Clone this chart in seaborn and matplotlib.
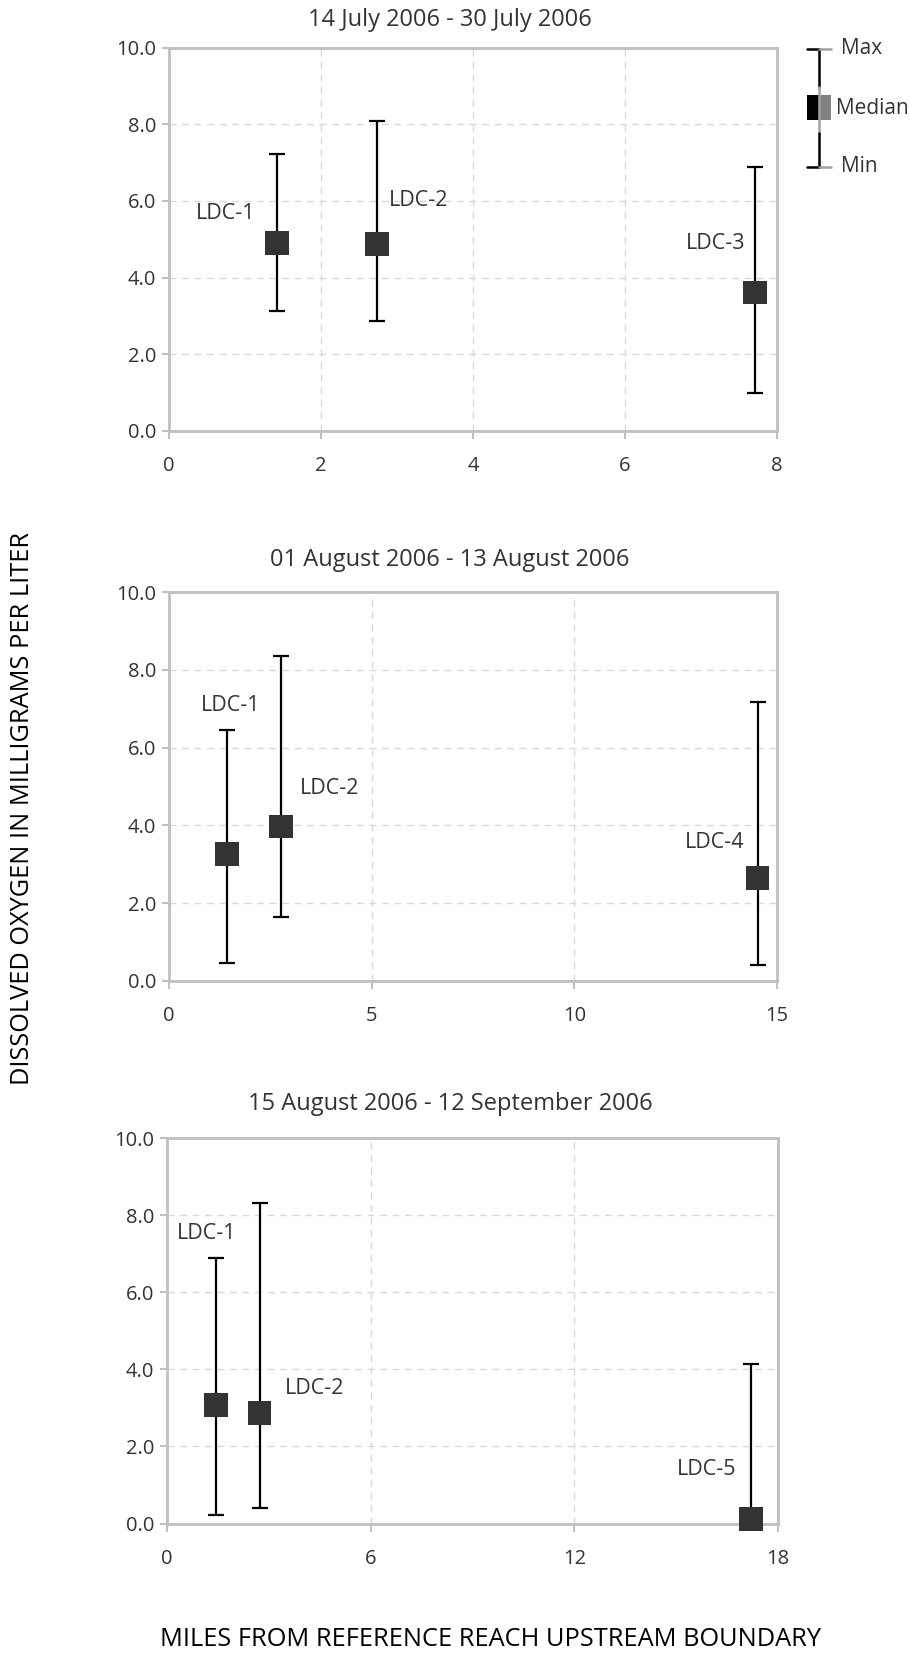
import matplotlib
matplotlib.use("Agg")
import matplotlib.pyplot as plt
import seaborn as sns
import pandas as pd

# ---- data: river mile, min / median / max dissolved oxygen (mg/L) ----
p1_title = "14 July 2006 - 30 July 2006"
p1_sites = ["LDC-1", "LDC-2", "LDC-3"]
p1_miles = [1.42, 2.74, 7.71]
p1_min = [3.12, 2.86, 0.98]
p1_med = [4.90, 4.87, 3.61]
p1_max = [7.23, 8.08, 6.88]
p1_xticks = [0, 2, 4, 6, 8]

p2_title = "01 August 2006 - 13 August 2006"
p2_sites = ["LDC-1", "LDC-2", "LDC-4"]
p2_miles = [1.43, 2.76, 14.52]
p2_min = [0.46, 1.65, 0.41]
p2_med = [3.26, 3.97, 2.65]
p2_max = [6.45, 8.36, 7.17]
p2_xticks = [0, 5, 10, 15]

p3_title = "15 August 2006 - 12 September 2006"
p3_sites = ["LDC-1", "LDC-2", "LDC-5"]
p3_miles = [1.45, 2.73, 17.21]
p3_min = [0.21, 0.41, 0.05]
p3_med = [3.08, 2.87, 0.12]
p3_max = [6.90, 8.31, 4.14]
p3_xticks = [0, 6, 12, 18]

y_ticks = [0.0, 2.0, 4.0, 6.0, 8.0, 10.0]

# ---- layout ----
W, H = 910, 1655
sns.set_theme(style="white")
plt.rcParams["font.family"] = ["Open Sans", "DejaVu Sans"]
TXT = "#333333"
SPINE = "#c0c0c0"
GRID = "#d9d9d9"
MARK = "#333333"

fig = plt.figure(figsize=(W / 100, H / 100), dpi=100)


def px_rect(left, top, right, bottom):
    return [left / W, 1 - bottom / H, (right - left) / W, (bottom - top) / H]


panels = [
    dict(title=p1_title, sites=p1_sites, miles=p1_miles, lo=p1_min, med=p1_med,
         hi=p1_max, xticks=p1_xticks, rect=px_rect(169, 47.5, 777, 431),
         title_y=20, labels=[(0.74, 5.68), (3.29, 6.0), (7.19, 4.9)]),
    dict(title=p2_title, sites=p2_sites, miles=p2_miles, lo=p2_min, med=p2_med,
         hi=p2_max, xticks=p2_xticks, rect=px_rect(169, 592, 777, 981),
         title_y=560, labels=[(1.52, 7.09), (3.96, 4.96), (13.47, 3.55)]),
    dict(title=p3_title, sites=p3_sites, miles=p3_miles, lo=p3_min, med=p3_med,
         hi=p3_max, xticks=p3_xticks, rect=px_rect(167, 1138, 778, 1523.5),
         title_y=1104, labels=[(1.18, 7.53), (4.34, 3.49), (15.9, 1.40)]),
]

for p in panels:
    ax = fig.add_axes(p["rect"])
    df = pd.DataFrame({"site": p["sites"], "mile": p["miles"],
                       "lo": p["lo"], "med": p["med"], "hi": p["hi"]})
    lower = df["med"] - df["lo"]
    upper = df["hi"] - df["med"]
    ax.errorbar(df["mile"], df["med"], yerr=[lower, upper], fmt="none",
                ecolor="black", elinewidth=1.6, capsize=6, capthick=1.6,
                zorder=3)
    sns.scatterplot(data=df, x="mile", y="med", marker="s", s=290,
                    color=MARK, edgecolor="none", ax=ax, zorder=5,
                    clip_on=False, legend=False)
    for name, (tx, ty) in zip(df["site"], p["labels"]):
        ax.text(tx, ty, name, ha="center", va="center", fontsize=15.5,
                color=TXT)

    ax.set_xlim(p["xticks"][0], p["xticks"][-1])
    ax.set_ylim(0, 10)
    ax.set_xticks(p["xticks"])
    ax.set_xticklabels([str(t) for t in p["xticks"]])
    ax.set_yticks(y_ticks)
    ax.set_yticklabels([f"{t:.1f}" for t in y_ticks])
    ax.set_xlabel("")
    ax.set_ylabel("")
    ax.grid(True, linestyle=(0, (5, 4)), color=GRID, linewidth=1.0, zorder=0)
    ax.set_axisbelow(True)
    for s in ax.spines.values():
        s.set_color(SPINE)
        s.set_linewidth(2)
        s.set_visible(True)
    ax.tick_params(axis="x", bottom=True, length=6, width=1.5, color=SPINE,
                   pad=12, labelsize=14.5, labelcolor=TXT)
    ax.tick_params(axis="y", left=True, length=5, width=1.5, color=SPINE,
                   pad=4, labelsize=14.5, labelcolor=TXT)
    fig.text(450 / W, 1 - p["title_y"] / H, p["title"], ha="center",
             va="center", fontsize=17, color=TXT)

fig.text(23 / W, 1 - 808 / H, "DISSOLVED OXYGEN IN MILLIGRAMS PER LITER",
         rotation=90, ha="center", va="center", fontsize=18.3, color="black")
fig.text(490 / W, 1 - 1640 / H, "MILES FROM REFERENCE REACH UPSTREAM BOUNDARY",
         ha="center", va="center", fontsize=18.3, color="black")

# ---- key: max / median / min glyph ----
lx0, ly0, lw, lh = 795, 30, 115, 155
kax = fig.add_axes(px_rect(lx0, ly0, lx0 + lw, ly0 + lh))
kax.set_xlim(lx0, lx0 + lw)
kax.set_ylim(ly0 + lh, ly0)
kax.axis("off")
cx, ymax, ymed, ymin = 819.3, 48.5, 108, 166.7
kax.plot([cx, cx], [ymax, 87], color="black", lw=1.8)
kax.plot([cx, cx], [87, 133], color="#a0a0a0", lw=1.8)
kax.plot([cx, cx], [133, ymin], color="black", lw=1.8)
for yy in (ymax, ymin):
    kax.plot([807, cx], [yy, yy], color="black", lw=1.8)
    kax.plot([cx, 831], [yy, yy], color="#a0a0a0", lw=1.8)
kax.add_patch(plt.Rectangle((807.3, 95), cx - 807.3, 25, color="black", lw=0))
kax.add_patch(plt.Rectangle((cx, 95), 831 - cx, 25, color="#808080", lw=0))
kax.text(841.5, ymax, "Max", ha="left", va="center", fontsize=15, color=TXT)
kax.text(836.5, ymed, "Median", ha="left", va="center", fontsize=15, color=TXT)
kax.text(841.5, ymin, "Min", ha="left", va="center", fontsize=15, color=TXT)

fig.savefig("out.png", dpi=100)
